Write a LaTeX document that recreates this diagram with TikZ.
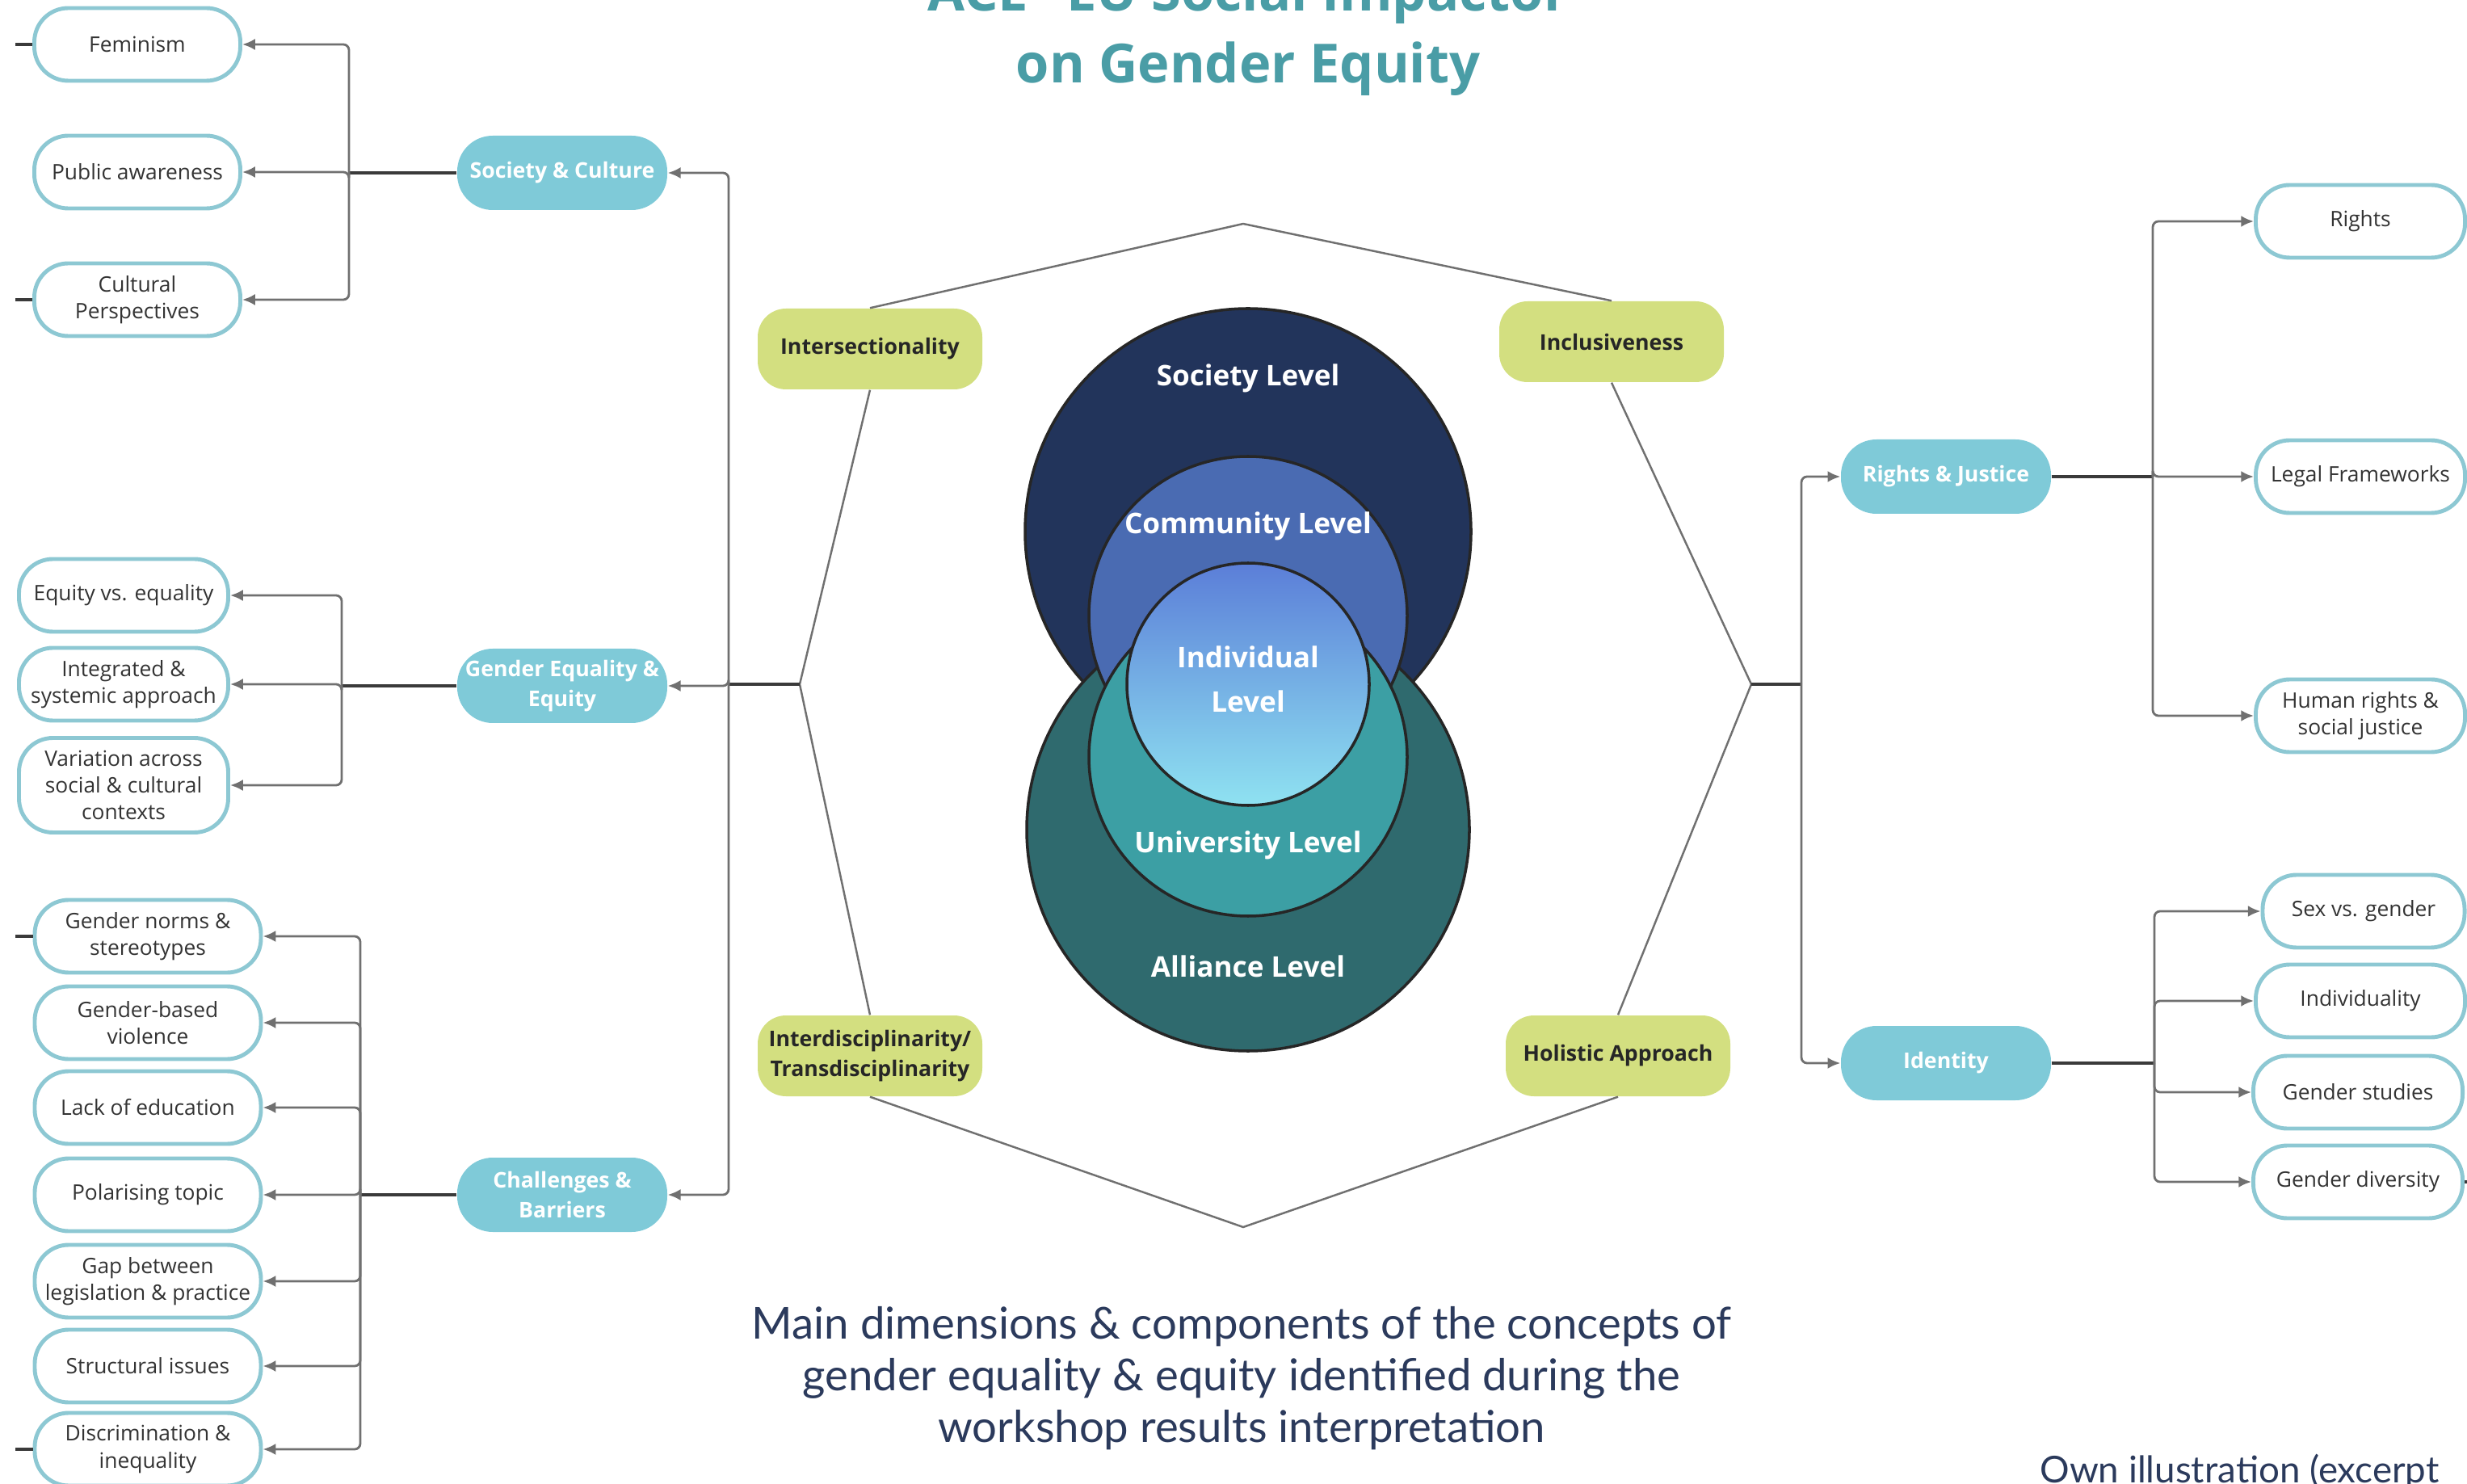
\documentclass[tikz,border=0pt]{standalone}
\usepackage{fontspec}
\setmainfont{Open Sans}
\newfontfamily\capfont{Lato}
\usetikzlibrary{arrows.meta}
\definecolor{gecat}{HTML}{7FCAD8}
\definecolor{geborder}{HTML}{8DC8D3}
\definecolor{geyellow}{HTML}{D3DF80}
\definecolor{genavy}{HTML}{22345B}
\definecolor{gecomm}{HTML}{4A6BB2}
\definecolor{geally}{HTML}{2F6A6E}
\definecolor{geuni}{HTML}{3C9FA4}
\definecolor{geindtop}{HTML}{5B7ED8}
\definecolor{geindbot}{HTML}{8FE2F1}
\definecolor{getitle}{HTML}{4A9DA6}
\definecolor{gecap}{HTML}{2B3A5C}
\definecolor{geline}{HTML}{707070}
\definecolor{gestem}{HTML}{3A3A3A}
\definecolor{geink}{HTML}{333333}

\begin{document}
\begin{tikzpicture}[
    leaf/.style={rectangle, draw=geborder, line width=1.4pt, fill=white, rounded corners=0.42cm, minimum width=2.55cm, minimum height=0.9cm, inner sep=1pt, align=center, text=geink, font=\fontsize{7.5}{9.4}\selectfont},
    topic/.style={rectangle, fill=gecat, rounded corners=0.44cm, minimum width=2.6cm, minimum height=0.92cm, inner sep=1pt, align=center, text=white, font=\bfseries\fontsize{7.6}{10.5}\selectfont},
    pillar/.style={rectangle, fill=geyellow, rounded corners=0.35cm, minimum width=2.78cm, minimum height=1.0cm, inner sep=1pt, align=center, text=black!85, font=\bfseries\fontsize{7.6}{10.5}\selectfont},
    ring/.style={circle, draw=black!85, line width=1pt, inner sep=0pt},
    level/.style={text=white, align=center, font=\bfseries\fontsize{10}{15.5}\selectfont},
    branch/.style={draw=geline, line width=0.8pt, rounded corners=2pt, -{Latex[length=4.5pt,width=4pt]}},
    stem/.style={draw=gestem, line width=1.3pt},
    octo/.style={draw=geline, line width=0.7pt}
]
\useasboundingbox (0,0) rectangle (30.54,-18.37);

% Title
\node[anchor=base, text=getitle, font=\bfseries\fontsize{19}{22}\selectfont] (title1) at (15.45,-0.14) {ACE²-EU Social Impactor};
\node[anchor=base, text=getitle, font=\bfseries\fontsize{19}{22}\selectfont] (title2) at (15.45,-1.03) {on Gender Equity};

% Levels
\node[ring, fill=genavy, minimum size=5.52cm] (society) at (15.45,-6.58) {};
\node[ring, fill=geally, minimum size=5.48cm] (alliance) at (15.45,-10.27) {};
\node[ring, fill=gecomm, minimum size=3.94cm] (community) at (15.45,-7.62) {};
\node[ring, fill=geuni, minimum size=3.94cm] (university) at (15.45,-9.37) {};
\node[ring, top color=geindtop, bottom color=geindbot, minimum size=3.0cm] (individual) at (15.45,-8.47) {};
\node[level] (lsoc) at (15.45,-4.68) {Society Level};
\node[level] (lcom) at (15.45,-6.51) {Community Level};
\node[level] (lind) at (15.45,-8.41) {Individual\\Level};
\node[level] (luni) at (15.45,-10.46) {University Level};
\node[level] (lall) at (15.45,-11.96) {Alliance Level};

% Principles on the octagon
\node[pillar] (isec) at (10.77,-4.32) {Intersectionality};
\node[pillar] (incl) at (19.95,-4.23) {Inclusiveness};
\node[pillar] (inter) at (10.77,-13.07) {Interdisciplinarity/\\Transdisciplinarity};
\node[pillar] (hol) at (20.03,-13.07) {Holistic Approach};

\coordinate (otop) at (15.39,-2.77);
\coordinate (obot) at (15.39,-15.19);
\coordinate (oleft) at (9.90,-8.47);
\coordinate (oright) at (21.68,-8.47);
\draw[octo] (otop) -- (incl.north) (incl.south) -- (oright) -- (hol.north)
            (hol.south) -- (obot) -- (inter.south) (inter.north) -- (oleft)
            -- (isec.south) (isec.north) -- (otop);

% Left topics
\node[topic] (soc) at (6.96,-2.14) {Society \& Culture};
\node[topic] (gee) at (6.96,-8.49) {Gender Equality \&\\Equity};
\node[topic] (chal) at (6.96,-14.79) {Challenges \&\\Barriers};

\coordinate (ljoint) at (9.02,-8.47);
\draw[stem] (oleft) -- (ljoint);
\draw[branch] (ljoint) |- (soc.east);
\draw[branch] (ljoint) |- (gee.east);
\draw[branch] (ljoint) |- (chal.east);

% Society & Culture
\node[leaf] (fem) at (1.70,-0.55) {Feminism};
\node[leaf] (pub) at (1.70,-2.13) {Public awareness};
\node[leaf] (cul) at (1.70,-3.71) {Cultural\\Perspectives};
\coordinate (sjoint) at (4.32,-2.14);
\draw[stem] (soc.west) -- (sjoint);
\foreach \n in {fem,pub,cul} \draw[branch] (sjoint) |- (\n.east);

% Gender Equality & Equity
\node[leaf, minimum width=2.59cm] (eqv) at (1.53,-7.37) {Equity vs. equality};
\node[leaf, minimum width=2.59cm] (integ) at (1.53,-8.47) {Integrated \&\\systemic approach};
\node[leaf, minimum width=2.59cm, minimum height=1.17cm] (var) at (1.53,-9.72) {Variation across\\social \& cultural\\contexts};
\coordinate (gjoint) at (4.23,-8.49);
\draw[stem] (gee.west) -- (gjoint);
\foreach \n in {eqv,integ,var} \draw[branch] (gjoint) |- (\n.east);

% Challenges & Barriers
\node[leaf, minimum width=2.8cm] (norms) at (1.83,-11.59) {Gender norms \&\\stereotypes};
\node[leaf, minimum width=2.8cm] (gbv) at (1.83,-12.66) {Gender-based\\violence};
\node[leaf, minimum width=2.8cm] (lack) at (1.83,-13.71) {Lack of education};
\node[leaf, minimum width=2.8cm] (pol) at (1.83,-14.79) {Polarising topic};
\node[leaf, minimum width=2.8cm] (gap) at (1.83,-15.86) {Gap between\\legislation \& practice};
\node[leaf, minimum width=2.8cm] (struc) at (1.83,-16.91) {Structural issues};
\node[leaf, minimum width=2.8cm] (disc) at (1.83,-17.94) {Discrimination \&\\inequality};
\coordinate (cjoint) at (4.46,-14.79);
\draw[stem] (chal.west) -- (cjoint);
\foreach \n in {norms,gbv,lack,pol,gap,struc,disc} \draw[branch] (cjoint) |- (\n.east);

% Right topics
\node[topic] (rj) at (24.09,-5.90) {Rights \& Justice};
\node[topic] (ident) at (24.09,-13.16) {Identity};
\coordinate (rjoint) at (22.30,-8.47);
\draw[stem] (oright) -- (rjoint);
\draw[branch] (rjoint) |- (rj.west);
\draw[branch] (rjoint) |- (ident.west);

% Rights & Justice
\node[leaf, minimum width=2.59cm] (rights) at (29.22,-2.74) {Rights};
\node[leaf, minimum width=2.59cm] (legal) at (29.22,-5.90) {Legal Frameworks};
\node[leaf, minimum width=2.59cm] (human) at (29.22,-8.86) {Human rights \&\\social justice};
\coordinate (rrjoint) at (26.65,-5.90);
\draw[stem] (rj.east) -- (rrjoint);
\foreach \n in {rights,legal,human} \draw[branch] (rrjoint) |- (\n.west);

% Identity
\node[leaf, minimum width=2.5cm] (sexg) at (29.26,-11.28) {Sex vs. gender};
\node[leaf, minimum width=2.59cm] (indiv) at (29.22,-12.39) {Individuality};
\node[leaf, minimum width=2.59cm] (gstud) at (29.19,-13.52) {Gender studies};
\node[leaf, minimum width=2.59cm] (gdiv) at (29.19,-14.63) {Gender diversity};
\coordinate (ijoint) at (26.67,-13.16);
\draw[stem] (ident.east) -- (ijoint);
\foreach \n in {sexg,indiv,gstud,gdiv} \draw[branch] (ijoint) |- (\n.west);

% Cut-off links at the edges
\coordinate (e1) at (0.19,-0.55);
\coordinate (e2) at (0.19,-3.71);
\coordinate (e3) at (0.19,-11.59);
\coordinate (e4) at (0.19,-17.94);
\coordinate (e5) at (30.54,-12.39);
\coordinate (e6) at (30.54,-14.63);
\draw[stem] (e1) -- (fem.west) (e2) -- (cul.west) (e3) -- (norms.west) (e4) -- (disc.west)
            (indiv.east) -- (e5) (gdiv.east) -- (e6);

% Caption
\node[align=center, text=gecap, font=\capfont\fontsize{15.5}{18.2}\selectfont] (caption) at (15.37,-17.06)
    {Main dimensions \& components of the concepts of\\gender equality \& equity identified during the\\workshop results interpretation};
\node[anchor=base west, text=gecap, font=\capfont\fontsize{13}{15}\selectfont] (source) at (25.13,-18.35) {Own illustration (excerpt};
\end{tikzpicture}
\end{document}
